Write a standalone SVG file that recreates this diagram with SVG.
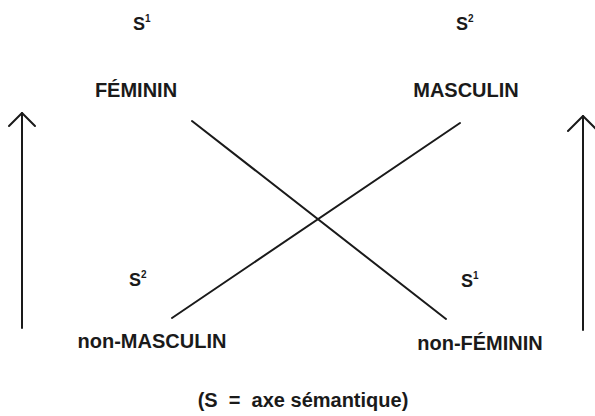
<svg xmlns="http://www.w3.org/2000/svg" width="595" height="416" viewBox="0 0 595 416">
<style>
text{font-family:"Liberation Sans",Arial,Helvetica,sans-serif;font-weight:bold;fill:#1a1a1a}
.lbl{font-size:20px;text-anchor:middle}
.s{font-size:18px}
.sup{font-size:10px}
.ln{stroke:#1a1a1a;stroke-width:2;fill:none;stroke-linecap:round;stroke-linejoin:round}
</style>
<rect width="595" height="416" fill="#ffffff"/>
<g id="feminin">
<text class="s" x="133" y="30">S<tspan class="sup" dy="-8">1</tspan></text>
<text class="lbl" x="136" y="97">FÉMININ</text>
</g>
<g id="masculin">
<text class="s" x="456" y="30">S<tspan class="sup" dy="-8">2</tspan></text>
<text class="lbl" x="466" y="97">MASCULIN</text>
</g>
<g id="non-masculin">
<text class="s" x="129" y="286">S<tspan class="sup" dy="-8">2</tspan></text>
<text class="lbl" x="152" y="348">non-MASCULIN</text>
</g>
<g id="non-feminin">
<text class="s" x="461" y="287">S<tspan class="sup" dy="-8">1</tspan></text>
<text class="lbl" x="480" y="350">non-FÉMININ</text>
</g>
<g id="connectors">
<line class="ln" x1="192" y1="121" x2="446" y2="319"/>
<line class="ln" x1="460" y1="123" x2="172" y2="318"/>
<line class="ln" x1="22" y1="113" x2="22" y2="328"/>
<polyline class="ln" points="9,126 22,113 35,126"/>
<line class="ln" x1="583" y1="116" x2="583" y2="330"/>
<polyline class="ln" points="568,131 583,116 598,131"/>
</g>
<text class="lbl" x="303" y="407" style="white-space:pre">(S  =  axe sémantique)</text>
</svg>
